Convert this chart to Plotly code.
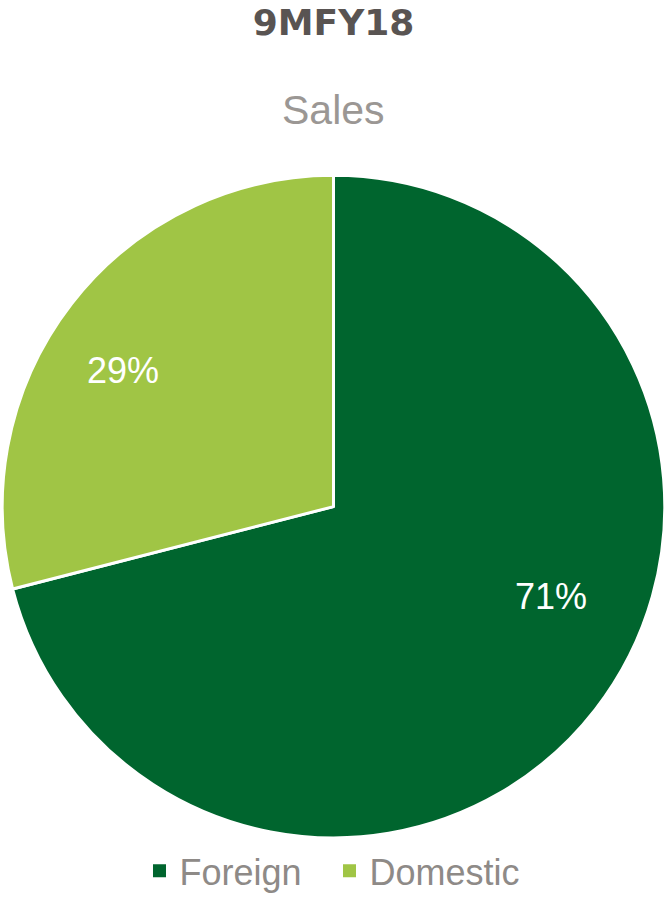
import plotly.graph_objects as go

labels = ["Foreign", "Domestic"]
values = [71, 29]
colors = ["#00652E", "#A0C545"]
title_text = "9MFY18"
subtitle_text = "Sales"

# label placement (paper coords), layout only
label_pos = [(0.826, 0.333), (0.1844, 0.586)]

FONT = "Arial, Liberation Sans, sans-serif"

fig = go.Figure()
fig.add_trace(
    go.Pie(
        labels=labels,
        values=values,
        sort=False,
        direction="clockwise",
        rotation=0,
        marker=dict(colors=colors, line=dict(color="#FFFFFF", width=3)),
        textinfo="none",
        domain=dict(x=[0.0, 1.0], y=[0.0638, 0.8041]),
        hoverinfo="label+percent",
        showlegend=False,
    )
)

# legend entries with square swatches
for lab, col in zip(labels, colors):
    fig.add_trace(
        go.Scatter(
            x=[None],
            y=[None],
            mode="markers",
            name=lab,
            marker=dict(symbol="square", size=13, color=col),
            showlegend=True,
        )
    )

total = sum(values)
annotations = [
    dict(
        text=subtitle_text,
        x=0.5,
        y=0.877,
        xref="paper",
        yref="paper",
        xanchor="center",
        yanchor="middle",
        showarrow=False,
        font=dict(family=FONT, size=41, color="#9B9794"),
    )
]
for v, (px, py) in zip(values, label_pos):
    annotations.append(
        dict(
            text=f"{round(100 * v / total)}%",
            x=px,
            y=py,
            xref="paper",
            yref="paper",
            xanchor="center",
            yanchor="middle",
            showarrow=False,
            font=dict(family=FONT, size=36, color="#FFFFFF"),
        )
    )

fig.update_layout(
    width=667,
    height=901,
    margin=dict(l=0, r=0, t=0, b=0),
    paper_bgcolor="#FFFFFF",
    plot_bgcolor="rgba(0,0,0,0)",
    xaxis=dict(visible=False),
    yaxis=dict(visible=False),
    title=dict(
        text="<b>" + title_text + "</b>",
        font=dict(family="DejaVu Sans, sans-serif", size=36, color="#595452"),
        x=0.5,
        xanchor="center",
        y=0.975,
        yanchor="middle",
    ),
    annotations=annotations,
    showlegend=True,
    legend=dict(
        orientation="h",
        x=0.494,
        xanchor="center",
        y=0.027,
        yanchor="middle",
        entrywidth=145,
        entrywidthmode="pixels",
        font=dict(family=FONT, size=36, color="#8E8A87"),
        bgcolor="rgba(0,0,0,0)",
    ),
)

fig.write_html("out.html")
